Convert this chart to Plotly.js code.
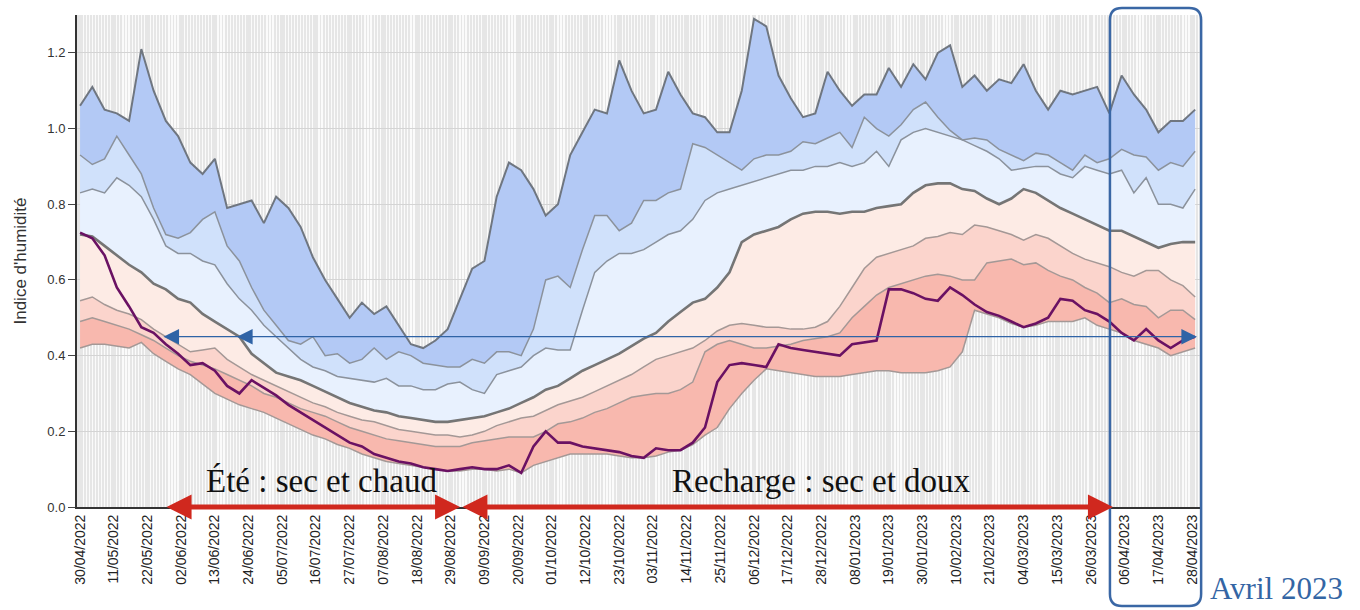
<!DOCTYPE html>
<html>
<head>
<meta charset="utf-8">
<script src="https://cdn.plot.ly/plotly-3.0.1.min.js"></script>
<style>
  html, body { margin: 0; padding: 0; background: #fff; }
  #plot { width: 1360px; height: 610px; }
</style>
</head>
<body>
<div id="plot"></div>
<script>
  // --- data: soil humidity index, one value every 4 days from 30/04/2022 ---
  const startDate = Date.UTC(2022, 3, 30);
  const stepDays = 4;

  // statistical envelope (top to bottom)
  const vMax = [1.06,1.11,1.05,1.04,1.02,1.21,1.10,1.02,0.98,0.91,0.88,0.92,0.79,0.80,0.81,0.75,0.82,0.79,0.74,0.66,
    0.60,0.55,0.50,0.54,0.51,0.53,0.48,0.43,0.42,0.44,0.47,0.55,0.63,0.65,0.82,0.91,0.89,0.84,0.77,0.80,
    0.93,0.99,1.05,1.04,1.18,1.10,1.04,1.05,1.15,1.09,1.04,1.03,0.99,0.99,1.10,1.29,1.27,1.14,1.08,1.03,
    1.04,1.15,1.10,1.06,1.09,1.09,1.16,1.11,1.17,1.13,1.20,1.22,1.11,1.14,1.10,1.13,1.12,1.17,1.10,1.05,
    1.10,1.09,1.10,1.11,1.04,1.14,1.09,1.05,0.99,1.02,1.02,1.05];
  const vHigh2 = [0.93,0.905,0.92,0.98,0.93,0.88,0.79,0.72,0.71,0.725,0.76,0.78,0.69,0.65,0.58,0.52,0.48,0.44,0.43,0.45,
    0.40,0.405,0.38,0.39,0.42,0.39,0.41,0.40,0.38,0.375,0.37,0.37,0.39,0.38,0.41,0.41,0.40,0.47,0.60,0.61,
    0.58,0.68,0.77,0.77,0.73,0.75,0.81,0.81,0.83,0.84,0.96,0.95,0.93,0.91,0.89,0.92,0.93,0.93,0.94,0.965,
    0.96,0.975,0.99,0.95,1.03,1.00,0.98,1.01,1.05,1.07,1.03,0.995,0.97,0.975,0.97,0.945,0.93,0.915,0.935,0.93,
    0.91,0.89,0.93,0.91,0.92,0.945,0.93,0.925,0.89,0.91,0.90,0.94];
  const vHigh1 = [0.83,0.84,0.83,0.87,0.85,0.82,0.76,0.69,0.67,0.67,0.65,0.64,0.59,0.55,0.52,0.48,0.45,0.42,0.39,0.37,
    0.36,0.345,0.34,0.335,0.33,0.34,0.32,0.32,0.31,0.31,0.325,0.33,0.31,0.30,0.35,0.36,0.37,0.40,0.42,0.415,
    0.415,0.52,0.62,0.65,0.67,0.67,0.68,0.70,0.72,0.73,0.76,0.81,0.83,0.84,0.85,0.86,0.87,0.88,0.89,0.89,
    0.90,0.90,0.91,0.90,0.91,0.94,0.90,0.97,0.99,1.00,0.99,0.98,0.97,0.955,0.94,0.92,0.89,0.895,0.90,0.90,
    0.88,0.87,0.90,0.89,0.88,0.89,0.83,0.87,0.80,0.80,0.79,0.84];
  const vMedian = [0.72,0.715,0.69,0.665,0.64,0.62,0.59,0.575,0.55,0.54,0.51,0.49,0.47,0.45,0.405,0.38,0.355,0.345,0.335,0.32,
    0.305,0.29,0.275,0.265,0.255,0.25,0.24,0.235,0.23,0.225,0.225,0.23,0.235,0.24,0.25,0.26,0.275,0.29,0.31,0.32,
    0.34,0.36,0.375,0.39,0.405,0.425,0.445,0.46,0.49,0.515,0.54,0.55,0.58,0.62,0.70,0.72,0.73,0.74,0.76,0.775,
    0.78,0.78,0.775,0.78,0.78,0.79,0.795,0.80,0.83,0.85,0.855,0.855,0.84,0.835,0.815,0.80,0.815,0.84,0.83,0.81,
    0.79,0.775,0.76,0.745,0.73,0.73,0.715,0.70,0.685,0.695,0.70,0.70];
  const vLow1 = [0.545,0.555,0.535,0.52,0.51,0.495,0.47,0.45,0.43,0.41,0.415,0.42,0.39,0.37,0.35,0.335,0.32,0.305,0.29,0.275,
    0.265,0.25,0.24,0.23,0.225,0.215,0.205,0.20,0.195,0.19,0.19,0.185,0.19,0.20,0.215,0.225,0.235,0.24,0.255,0.27,
    0.28,0.29,0.305,0.32,0.335,0.35,0.37,0.39,0.40,0.41,0.42,0.44,0.465,0.48,0.485,0.48,0.475,0.475,0.47,0.47,
    0.475,0.49,0.53,0.58,0.63,0.66,0.67,0.68,0.69,0.71,0.715,0.725,0.72,0.745,0.74,0.73,0.72,0.705,0.72,0.71,
    0.69,0.67,0.655,0.645,0.635,0.62,0.61,0.625,0.625,0.60,0.585,0.555];
  const vLow2 = [0.49,0.50,0.49,0.48,0.47,0.455,0.44,0.42,0.40,0.385,0.375,0.365,0.35,0.335,0.32,0.30,0.29,0.275,0.26,0.25,
    0.24,0.225,0.21,0.20,0.19,0.18,0.175,0.17,0.165,0.16,0.16,0.16,0.17,0.175,0.18,0.185,0.185,0.185,0.20,0.22,
    0.225,0.235,0.25,0.26,0.275,0.29,0.295,0.30,0.30,0.31,0.33,0.41,0.43,0.44,0.43,0.42,0.42,0.425,0.43,0.44,
    0.445,0.45,0.46,0.50,0.53,0.56,0.58,0.59,0.60,0.61,0.615,0.61,0.60,0.60,0.645,0.65,0.655,0.64,0.645,0.625,
    0.61,0.60,0.58,0.565,0.54,0.55,0.535,0.53,0.50,0.52,0.52,0.495];
  const vMin = [0.42,0.43,0.43,0.425,0.42,0.435,0.405,0.385,0.365,0.35,0.325,0.30,0.285,0.27,0.26,0.25,0.235,0.22,0.205,0.19,
    0.18,0.165,0.155,0.14,0.13,0.12,0.115,0.11,0.105,0.10,0.095,0.095,0.10,0.10,0.095,0.10,0.09,0.11,0.12,0.13,
    0.14,0.14,0.14,0.14,0.135,0.13,0.13,0.135,0.145,0.15,0.165,0.19,0.21,0.26,0.30,0.335,0.365,0.36,0.355,0.35,
    0.345,0.345,0.345,0.35,0.355,0.36,0.36,0.355,0.355,0.355,0.36,0.37,0.41,0.52,0.51,0.50,0.485,0.475,0.48,0.49,
    0.49,0.49,0.50,0.48,0.47,0.46,0.44,0.43,0.42,0.40,0.41,0.42];

  // current year 2022-2023
  const v2022 = [0.725,0.71,0.665,0.58,0.53,0.475,0.46,0.43,0.405,0.375,0.38,0.36,0.32,0.30,0.335,0.315,0.295,0.27,0.25,0.23,
    0.21,0.19,0.17,0.16,0.14,0.13,0.12,0.115,0.105,0.10,0.095,0.10,0.105,0.10,0.10,0.11,0.09,0.16,0.20,0.17,
    0.17,0.16,0.155,0.15,0.145,0.135,0.13,0.155,0.15,0.15,0.17,0.21,0.33,0.375,0.38,0.375,0.37,0.43,0.42,0.415,
    0.41,0.405,0.40,0.43,0.435,0.44,0.575,0.575,0.565,0.55,0.545,0.58,0.56,0.535,0.515,0.505,0.49,0.475,0.485,0.50,
    0.55,0.545,0.52,0.51,0.49,0.46,0.44,0.47,0.44,0.42,0.44,0.45];

  const dates = vMax.map((_, i) =>
    new Date(startDate + i * stepDays * 86400000).toISOString().slice(0, 10));

  function band(y, fillcolor, lineColor, width) {
    return {
      x: dates, y, type: 'scatter', mode: 'lines',
      fill: fillcolor ? 'tonexty' : 'none', fillcolor,
      line: { color: lineColor, width },
      hoverinfo: 'skip', showlegend: false
    };
  }

  const traces = [
    band(vMin, null, '#a49896', 1.5),
    band(vLow2, '#f8b8ae', '#a49896', 1.5),
    band(vLow1, '#fbd4cc', '#a49896', 1.5),
    band(vMedian, '#fdebe5', '#757575', 2.6),
    band(vHigh1, '#e8f1fe', '#8b929c', 1.5),
    band(vHigh2, '#d0e1fb', '#8b929c', 1.5),
    band(vMax, '#b3c9f5', '#6f7680', 2),
    { x: dates, y: v2022, type: 'scatter', mode: 'lines',
      line: { color: '#6a1163', width: 2.6 }, showlegend: false }
  ];

  // rounded frame around April 2023 (paper coords)
  const bx0 = 0.9198, bx1 = 1.001, by0 = -0.201, by1 = 1.014, rx = 0.0107, ry = 0.0244;
  const framePath = `M${bx0+rx},${by1} L${bx1-rx},${by1} Q${bx1},${by1} ${bx1},${by1-ry} ` +
    `L${bx1},${by0+ry} Q${bx1},${by0} ${bx1-rx},${by0} L${bx0+rx},${by0} ` +
    `Q${bx0},${by0} ${bx0},${by0+ry} L${bx0},${by1-ry} Q${bx0},${by1} ${bx0+rx},${by1} Z`;

  const serif = 'Liberation Serif, Times New Roman, serif';

  const layout = {
    width: 1360, height: 610,
    margin: { l: 77, r: 160, t: 15, b: 103 },
    paper_bgcolor: '#ffffff',
    plot_bgcolor: '#e6e6e6',
    font: { family: 'Liberation Sans, Arial, sans-serif', color: '#333' },
    xaxis: {
      type: 'date',
      range: ['2022-04-29', '2023-04-30 14:00'],
      tick0: '2022-04-30', dtick: 11 * 86400000,
      tickformat: '%d/%m/%Y', tickangle: -90,
      tickfont: { size: 14, color: '#222' },
      ticks: '', showgrid: false, zeroline: false,
      showline: true, linecolor: '#333', linewidth: 2,
      minor: { tick0: '2022-04-30', dtick: 86400000, showgrid: true, gridcolor: '#fbfbfb', gridwidth: 1.2 }
    },
    yaxis: {
      range: [0, 1.3], dtick: 0.2, tickformat: '.1f',
      ticks: 'outside', ticklen: 7, tickcolor: '#444',
      tickfont: { size: 13, color: '#333' },
      showline: true, linecolor: '#333', linewidth: 2,
      gridcolor: '#d4d4d4', zeroline: false,
      title: { text: "Indice d'humidité", font: { size: 17, color: '#333' }, standoff: 16 }
    },
    shapes: [
      { type: 'path', xref: 'paper', yref: 'paper', path: framePath,
        line: { color: '#3a67a5', width: 2.5 }, fillcolor: 'rgba(0,0,0,0)' }
    ],
    annotations: [
      // seasons
      { xref: 'paper', yref: 'y', x: 0.3411, y: 0, ax: -295, ay: 0, text: '',
        showarrow: true, arrowside: 'end+start', arrowhead: 2, startarrowhead: 2,
        arrowsize: 1, startarrowsize: 1, arrowwidth: 5, arrowcolor: '#d0281e' },
      { xref: 'paper', yref: 'y', x: 0.9225, y: 0, ax: -652, ay: 0, text: '',
        showarrow: true, arrowside: 'end+start', arrowhead: 2, startarrowhead: 2,
        arrowsize: 1, startarrowsize: 1, arrowwidth: 5, arrowcolor: '#d0281e' },
      { xref: 'paper', yref: 'y', x: 0.2173, y: 0.068, xanchor: 'center', yanchor: 'middle',
        text: 'Été : sec et chaud', showarrow: false,
        font: { family: serif, size: 33, color: '#111' } },
      { xref: 'paper', yref: 'y', x: 0.6634, y: 0.068, xanchor: 'center', yanchor: 'middle',
        text: 'Recharge : sec et doux', showarrow: false,
        font: { family: serif, size: 33, color: '#111' } },
      // same humidity level as spring 2022
      { xref: 'paper', yref: 'y', x: 0.9973, y: 0.45, ax: -1035, ay: 0, text: '',
        showarrow: true, arrowside: 'end+start', arrowhead: 2, startarrowhead: 2,
        arrowsize: 2.6, startarrowsize: 2.6, arrowwidth: 1.2, arrowcolor: '#2f63a6' },
      { xref: 'paper', yref: 'y', x: 0.1425, y: 0.45, ax: 18, ay: 0, text: '',
        showarrow: true, arrowhead: 2, arrowsize: 2.6, arrowwidth: 1.2, arrowcolor: '#2f63a6' },
      { xref: 'paper', yref: 'paper', x: 1.0677, y: -0.165, xanchor: 'center', yanchor: 'middle',
        text: 'Avril 2023', showarrow: false,
        font: { family: serif, size: 31, color: '#3465a4' } }
    ]
  };

  Plotly.newPlot('plot', traces, layout, { displayModeBar: false, staticPlot: true });
</script>
</body>
</html>
